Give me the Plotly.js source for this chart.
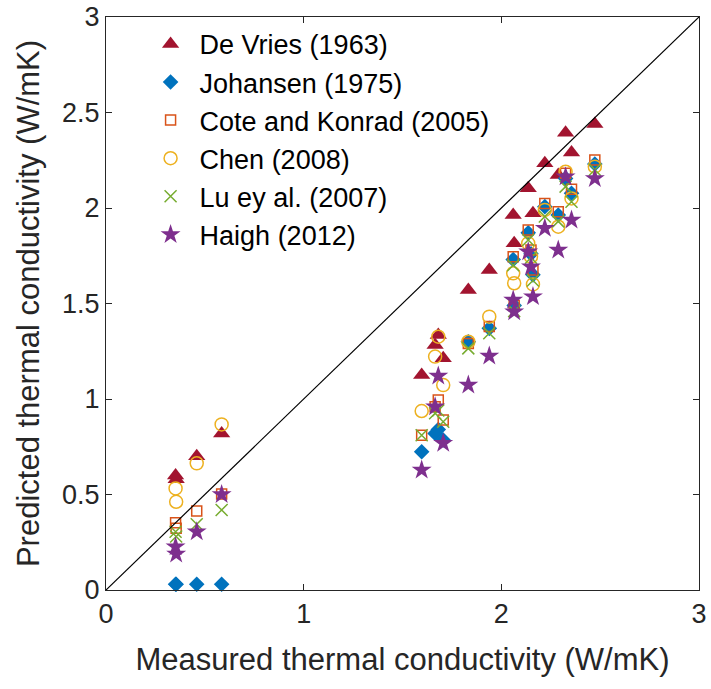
<!DOCTYPE html>
<html>
<head>
<meta charset="utf-8">
<script src="https://cdn.plot.ly/plotly-3.0.1.min.js"></script>
<style>html,body{margin:0;padding:0;background:#fff}#chart{width:711px;height:689px}</style>
</head>
<body>
<div id="chart"></div>
<script>
// Measured thermal conductivity (W/mK) per sample
var measured = [0.352, 0.355, 0.459, 0.585, 1.597, 1.665, 1.681, 1.706, 1.833, 1.939,
                2.060, 2.065, 2.136, 2.150, 2.160, 2.220, 2.288, 2.325, 2.355, 2.473];
// Predicted values per model
var deVries  = [0.60, 0.58, 0.70, 0.82, 1.126, 1.283, 1.335, 1.213, 1.571, 1.675,
                1.963, 1.815, 2.103, null, 1.972, 2.234, 2.173, 2.394, 2.29, 2.44];
var johansen = [0.03, 0.03, 0.03, 0.03, 0.724, 0.82, 0.84, 0.785, 1.30, 1.37,
                1.73, 1.49, 1.87, 1.76, 1.65, 2.007, 1.963, 2.155, 2.077, 2.23];
var cote     = [0.352, 0.323, 0.414, 0.503, 0.81, 0.96, 0.995, 0.89, 1.29, 1.379,
                1.745, 1.49, 1.885, 1.78, 1.675, 2.024, 1.981, 2.182, 2.098, 2.251];
var chen     = [0.532, 0.462, 0.663, 0.867, 0.937, 1.222, 1.326, 1.073, 1.30, 1.431,
                1.658, 1.606, 1.815, 1.745, 1.60, 1.99, 1.902, 2.19, 2.05, 2.216];
var lu       = [0.305, 0.28, 0.344, 0.419, 0.81, 0.925, 0.94, 0.881, 1.265, 1.344,
                1.70, 1.46, 1.832, 1.74, 1.62, 1.955, 1.93, 2.112, 2.033, 2.20];
var haigh    = [0.227, 0.188, 0.305, 0.50, 0.628, 0.96, 1.12, 0.768, 1.073, 1.225,
                1.518, 1.457, 1.771, 1.693, 1.536, 1.894, 1.78, 2.164, 1.937, 2.155];
var seriesNames = ["De Vries (1963)", "Johansen (1975)", "Cote and Konrad (2005)",
                   "Chen (2008)", "Lu ey al. (2007)", "Haigh (2012)"];
var oneToOne = [0, 3];
var tickVals = [0, 0.5, 1, 1.5, 2, 2.5, 3];
var tickText = ["0", "0.5", "1", "1.5", "2", "2.5", "3"];
var xTickVals = [0, 1, 2, 3];
var xTickText = ["0", "1", "2", "3"];

var seriesData = [deVries, johansen, cote, chen, lu, haigh];
var styles = [
  {symbol: "triangle-up", size: 15, color: "#A2142F", line: {width: 0}},
  {symbol: "diamond", size: 12, color: "#0072BD", line: {width: 0}},
  {symbol: "square-open", size: 10, color: "#D95319", line: {width: 1.5, color: "#D95319"}},
  {symbol: "circle-open", size: 13, color: "#EDB120", line: {width: 1.5, color: "#EDB120"}},
  {symbol: "x-thin-open", size: 12, color: "#77AC30", line: {width: 1.5, color: "#77AC30"}},
  {symbol: "star", size: 15, color: "#7E2F8E", line: {width: 0}}
];

var traces = seriesData.map(function (ys, i) {
  return {
    x: measured, y: ys, type: "scatter", mode: "markers",
    name: seriesNames[i],
    marker: styles[i], cliponaxis: false
  };
});
traces.push({
  x: oneToOne, y: oneToOne, type: "scatter", mode: "lines",
  line: {color: "#000000", width: 1.2}, showlegend: false, hoverinfo: "skip"
});

var fam = "Liberation Sans, Arial, sans-serif";
var axisCommon = {
  range: [0, 3], showgrid: false, zeroline: false,
  showline: true, linecolor: "#262626", linewidth: 1, mirror: "ticks",
  ticks: "inside", ticklen: 6, tickcolor: "#262626", tickwidth: 1,
  tickfont: {family: fam, size: 27, color: "#262626"}
};

var layout = {
  width: 711, height: 689,
  margin: {l: 106, r: 12, t: 17, b: 99},
  paper_bgcolor: "#ffffff", plot_bgcolor: "#ffffff",
  font: {family: fam, color: "#262626"},
  xaxis: Object.assign({}, axisCommon, {
    tickvals: xTickVals, ticktext: xTickText,
    title: {text: "Measured thermal conductivity (W/mK)", font: {family: fam, size: 31, color: "#262626"}, standoff: 19}
  }),
  yaxis: Object.assign({}, axisCommon, {
    tickvals: tickVals, ticktext: tickText,
    title: {text: "Predicted thermal conductivity (W/mK)", font: {family: fam, size: 31, color: "#262626"}, standoff: 13}
  }),
  showlegend: true,
  legend: {
    x: 0.06, y: 0.995, xanchor: "left", yanchor: "top",
    bgcolor: "rgba(0,0,0,0)", borderwidth: 0,
    font: {family: fam, size: 27, color: "#000000"},
    itemwidth: 48
  }
};

Plotly.newPlot("chart", traces, layout, {displayModeBar: false, staticPlot: true});
</script>
</body>
</html>
